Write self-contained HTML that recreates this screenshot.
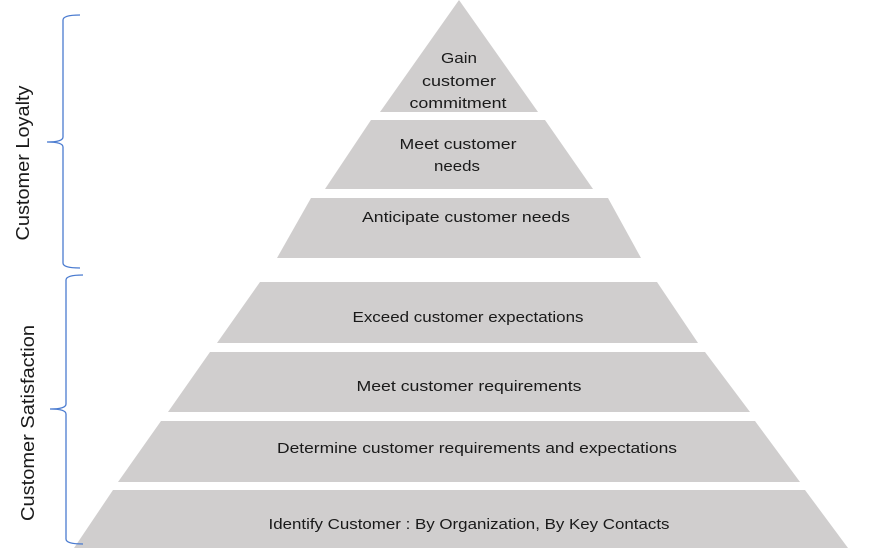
<!DOCTYPE html>
<html><head><meta charset="utf-8"><style>
html,body{margin:0;padding:0;background:#fff;}
svg{display:block;}
text{font-family:"Liberation Sans",sans-serif;font-size:15px;fill:#1a1a1a;}
</style></head><body>
<svg width="869" height="548" viewBox="0 0 869 548" xmlns="http://www.w3.org/2000/svg">
<g fill="#d0cece">
<polygon points="459,0 538,112 380,112"/>
<polygon points="371,120 545,120 593,189 325,189"/>
<polygon points="311,198 608,198 641,258 277,258"/>
<polygon points="260,282 657,282 698,343 217,343"/>
<polygon points="210,352 705,352 750,412 168,412"/>
<polygon points="161,421 755,421 800,482 118,482"/>
<polygon points="113,490 805,490 848,548 74,548"/>
</g>
<g fill="none" stroke="#4a7bd0" stroke-width="1.3">
<path d="M80,15 Q63,15 63,20 L63,137 Q63,142 47,142 Q63,142 63,147 L63,263 Q63,268 80,268"/>
<path d="M83,275 Q66,275 66,280 L66,404 Q66,409 50,409 Q66,409 66,414 L66,539 Q66,544 83,544"/>
</g>
<text x="459" y="63" text-anchor="middle" textLength="36" lengthAdjust="spacingAndGlyphs">Gain</text>
<text x="459" y="86" text-anchor="middle" textLength="74" lengthAdjust="spacingAndGlyphs">customer</text>
<text x="458" y="108" text-anchor="middle" textLength="97" lengthAdjust="spacingAndGlyphs">commitment</text>
<text x="458" y="149" text-anchor="middle" textLength="117" lengthAdjust="spacingAndGlyphs">Meet customer</text>
<text x="457" y="171" text-anchor="middle" textLength="46" lengthAdjust="spacingAndGlyphs">needs</text>
<text x="466" y="222" text-anchor="middle" textLength="208" lengthAdjust="spacingAndGlyphs">Anticipate  customer needs</text>
<text x="468" y="322" text-anchor="middle" textLength="231" lengthAdjust="spacingAndGlyphs">Exceed customer expectations</text>
<text x="469" y="391" text-anchor="middle" textLength="225" lengthAdjust="spacingAndGlyphs">Meet customer requirements</text>
<text x="477" y="453" text-anchor="middle" textLength="400" lengthAdjust="spacingAndGlyphs">Determine customer requirements and expectations</text>
<text x="469" y="529" text-anchor="middle" textLength="401" lengthAdjust="spacingAndGlyphs">Identify Customer : By Organization, By Key Contacts</text>
<text transform="translate(29,163) rotate(-90)" text-anchor="middle" style="font-size:18px" textLength="155" lengthAdjust="spacingAndGlyphs">Customer Loyalty</text>
<text transform="translate(34,423) rotate(-90)" text-anchor="middle" style="font-size:18px" textLength="196" lengthAdjust="spacingAndGlyphs">Customer Satisfaction</text>
</svg>
</body></html>
